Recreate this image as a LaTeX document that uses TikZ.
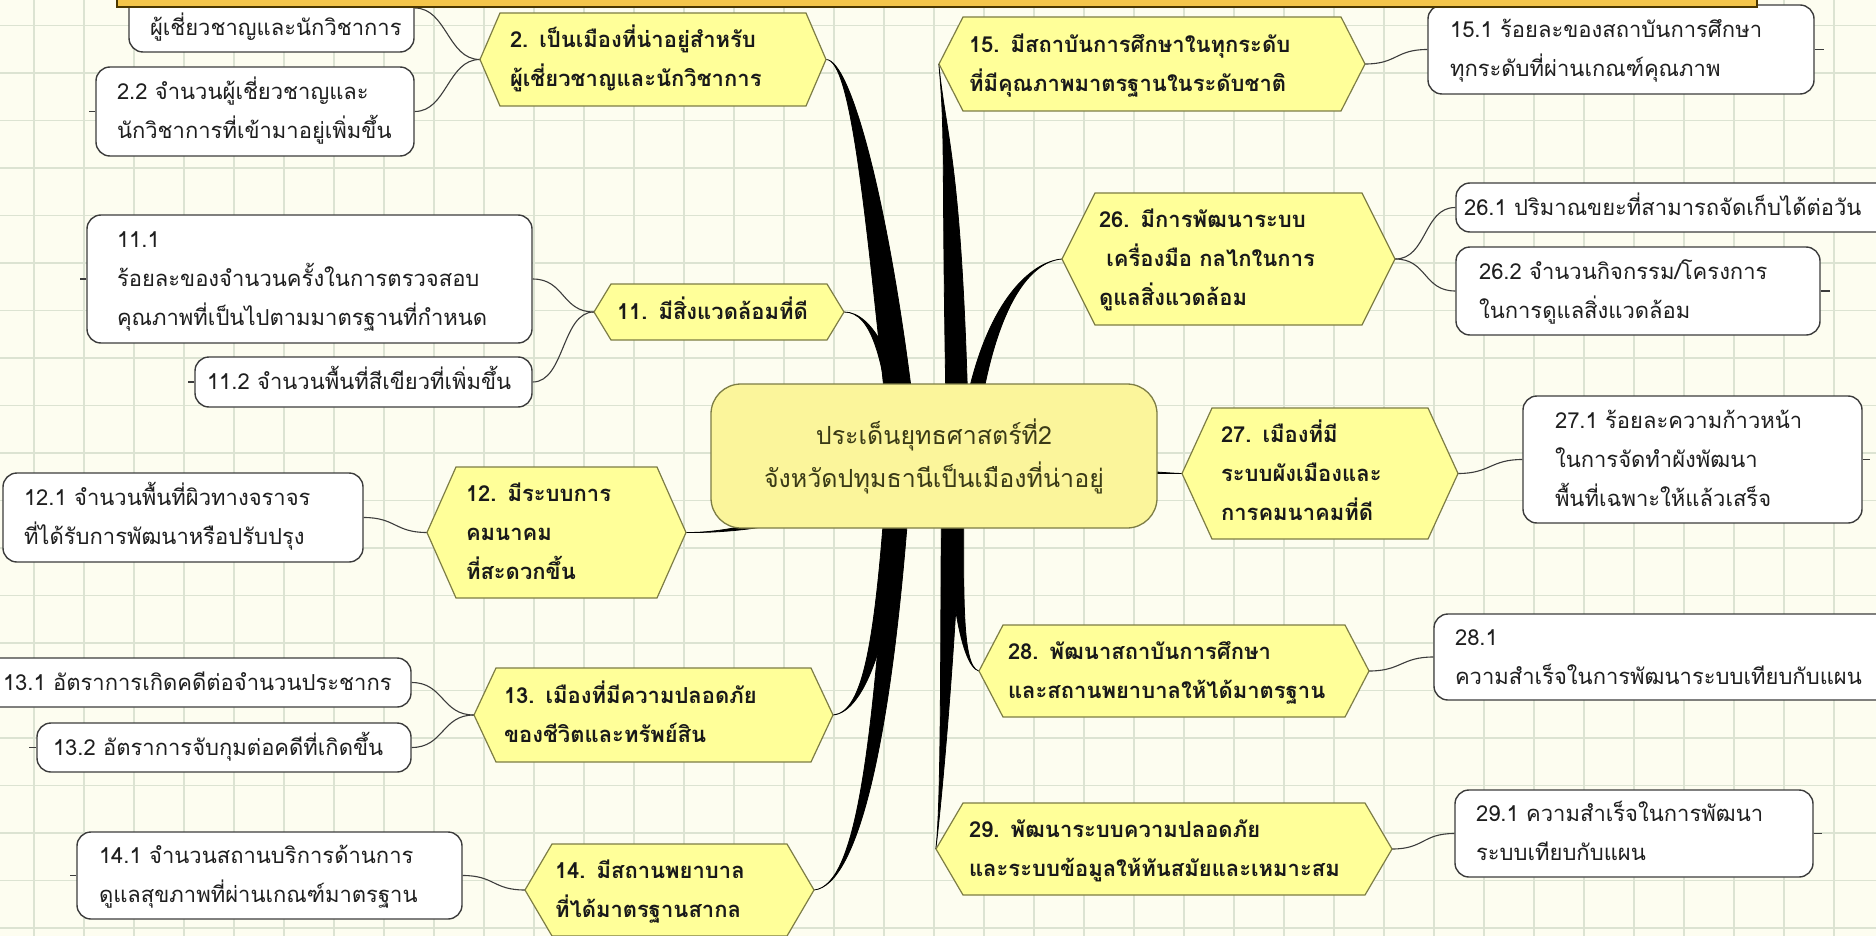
\documentclass[tikz,border=0pt]{standalone}
\usepackage{fontspec}
\usetikzlibrary{calc}
\newfontfamily\thaifont[Script=Thai]{Loma}

\definecolor{paper}{HTML}{FDFDF0}
\definecolor{gridline}{HTML}{DCE3D2}
\definecolor{hexfill}{HTML}{FFFF99}
\definecolor{hexline}{HTML}{7D7D45}
\definecolor{leafline}{HTML}{3C3C3C}
\definecolor{corefill}{HTML}{FBF59B}
\definecolor{coretext}{HTML}{3A3A16}
\definecolor{bannerfill}{HTML}{F4C54A}
\definecolor{bannerline}{HTML}{4A3600}

\newcommand\leaffont{\thaifont\fontsize{22}{39}\selectfont}
\newcommand\hexfont{\thaifont\bfseries\fontsize{22}{39}\selectfont}
\newcommand\corefont{\thaifont\fontsize{25}{43}\selectfont}

% one text line that never wraps
\newcommand\LL[1]{\makebox[0pt][l]{\strut#1}}

\pgfdeclarelayer{gridlayer}
\pgfdeclarelayer{links}
\pgfsetlayers{gridlayer,links,main}

% leaf box: name, left, top, right, bottom, text left, lines
\newcommand\leafnode[7]{%
  \pgfmathsetmacro\LFw{#4-#2}\pgfmathsetmacro\LFh{#5-#3}%
  \pgfmathsetmacro\LFx{(#2+#4)/2}\pgfmathsetmacro\LFy{(#3+#5)/2}%
  \pgfmathsetmacro\LFt{#4+#2-2*#6}%
  \node[leafbox, minimum width=\LFw pt, minimum height=\LFh pt, text width=\LFt pt] (#1) at (\LFx,\LFy) {#7};}

% hexagon: name, left tip, right tip, top, bottom, tip depth, text left, lines
\newcommand\hexnode[8]{%
  \pgfmathsetmacro\HXw{#3-#2}\pgfmathsetmacro\HXh{#5-#4}%
  \pgfmathsetmacro\HXx{(#2+#3)/2}\pgfmathsetmacro\HXy{(#4+#5)/2}%
  \pgfmathsetmacro\HXt{#3+#2-2*#7}%
  \filldraw[hexshape] (#2,\HXy) -- ({#2+#6},#4) -- ({#3-#6},#4) -- (#3,\HXy)
     -- ({#3-#6},#5) -- ({#2+#6},#5) -- cycle;
  \node[hextext, minimum width=\HXw pt, minimum height=\HXh pt, text width=\HXt pt] (#1) at (\HXx,\HXy) {#8};}

% tapered branch: thin end, control 1, control 2, base, half width (dx,dy)
\newcommand\trunk[6]{%
  \filldraw[trunkstyle] #1 .. controls #2 and ($#3+(#5,#6)$) .. ($#4+(#5,#6)$)
    -- ($#4-(#5,#6)$) .. controls ($#3-(#5,#6)$) and #2 .. #1 -- cycle;}

\begin{document}
\begin{tikzpicture}[x=1pt,y=-1pt,
  leafbox/.style={draw=leafline, fill=white, line width=1.4pt, rounded corners=14pt,
    inner sep=0pt, align=left, font=\leaffont, text=black!88},
  hexshape/.style={draw=hexline, fill=hexfill, line width=1.2pt, line join=miter},
  hextext/.style={inner sep=0pt, align=left, font=\hexfont, text=black!90},
  corebox/.style={draw=hexline, fill=corefill, line width=1.3pt, rounded corners=30pt,
    align=center, font=\corefont, text=coretext},
  link/.style={draw=leafline, line width=1.1pt},
  tick/.style={draw=leafline, line width=1.2pt},
  trunkstyle/.style={fill=black, draw=black, line width=0.8pt},
  gridstyle/.style={draw=gridline, line width=1.6pt},
  banner/.style={fill=bannerfill, draw=bannerline, line width=2pt}]

\useasboundingbox (0,0) rectangle (1876,936);

% paper and grid
\begin{pgfonlayer}{gridlayer}
  \fill[paper] (0,0) rectangle (1876,936);
  \foreach \gx in {34,84,...,1834} \draw[gridstyle] (\gx,0) -- (\gx,936);
  \foreach \gy in {25.5,73,...,930} \draw[gridstyle] (0,\gy) -- (1876,\gy);
\end{pgfonlayer}

% central topic
\node[corebox, minimum width=446pt, minimum height=144pt] (core) at (934,456)
  {ประเด็นยุทธศาสตร์ที่2\\จังหวัดปทุมธานีเป็นเมืองที่น่าอยู่};

% main topics
\hexnode{h2}{480}{826}{13}{106}{20}{510}{\LL{2. เป็นเมืองที่น่าอยู่สำหรับ}\\\LL{ผู้เชี่ยวชาญและนักวิชาการ}}
\hexnode{h11}{594}{844}{284}{340}{17}{617}{\LL{11. มีสิ่งแวดล้อมที่ดี}}
\hexnode{h12}{427}{686}{467}{598}{29}{466}{\LL{12. มีระบบการ}\\\LL{คมนาคม}\\\LL{ที่สะดวกขึ้น}}
\hexnode{h13}{474}{833}{668}{762}{22}{504}{\LL{13. เมืองที่มีความปลอดภัย}\\\LL{ของชีวิตและทรัพย์สิน}}
\hexnode{h14}{525}{814}{844}{936}{27}{555}{\LL{14. มีสถานพยาบาล}\\\LL{ที่ได้มาตรฐานสากล}}
\hexnode{h15}{939}{1365}{17}{111}{24}{969}{\LL{15. มีสถาบันการศึกษาในทุกระดับ}\\\LL{ที่มีคุณภาพมาตรฐานในระดับชาติ}}
\hexnode{h26}{1062}{1395}{193}{325}{33}{1099}{\LL{26. มีการพัฒนาระบบ}\\\LL{\ เครื่องมือ กลไกในการ}\\\LL{ดูแลสิ่งแวดล้อม}}
\hexnode{h27}{1182}{1458}{408}{539}{30}{1221}{\LL{27. เมืองที่มี}\\\LL{ระบบผังเมืองและ}\\\LL{การคมนาคมที่ดี}}
\hexnode{h28}{979}{1369}{625}{717}{24}{1008}{\LL{28. พัฒนาสถาบันการศึกษา}\\\LL{และสถานพยาบาลให้ได้มาตรฐาน}}
\hexnode{h29}{936}{1392}{803}{895}{27}{969}{\LL{29. พัฒนาระบบความปลอดภัย}\\\LL{และระบบข้อมูลให้ทันสมัยและเหมาะสม}}

% indicators
\leafnode{l21}{129}{-36}{414}{52}{150}{\LL{}\\\LL{ผู้เชี่ยวชาญและนักวิชาการ}}
\leafnode{l22}{96}{67}{414}{156}{117}{\LL{2.2 จำนวนผู้เชี่ยวชาญและ}\\\LL{นักวิชาการที่เข้ามาอยู่เพิ่มขึ้น}}
\leafnode{l111}{87}{215}{532}{343}{117}{\LL{11.1}\\\LL{ร้อยละของจำนวนครั้งในการตรวจสอบ}\\\LL{คุณภาพที่เป็นไปตามมาตรฐานที่กำหนด}}
\leafnode{l112}{195}{357}{532}{407}{207}{\LL{11.2 จำนวนพื้นที่สีเขียวที่เพิ่มขึ้น}}
\leafnode{l121}{3}{473}{363}{562}{24}{\LL{12.1 จำนวนพื้นที่ผิวทางจราจร}\\\LL{ที่ได้รับการพัฒนาหรือปรับปรุง}}
\leafnode{l131}{-15}{658}{411}{707}{3}{\LL{13.1 อัตราการเกิดคดีต่อจำนวนประชากร}}
\leafnode{l132}{37}{723}{411}{772}{53}{\LL{13.2 อัตราการจับกุมต่อคดีที่เกิดขึ้น}}
\leafnode{l141}{77}{832}{462}{919}{99}{\LL{14.1 จำนวนสถานบริการด้านการ}\\\LL{ดูแลสุขภาพที่ผ่านเกณฑ์มาตรฐาน}}
\leafnode{l151}{1428}{5}{1814}{94}{1450}{\LL{15.1 ร้อยละของสถาบันการศึกษา}\\\LL{ทุกระดับที่ผ่านเกณฑ์คุณภาพ}}
\leafnode{l261}{1456}{183}{1890}{232}{1464}{\LL{26.1 ปริมาณขยะที่สามารถจัดเก็บได้ต่อวัน}}
\leafnode{l262}{1456}{247}{1820}{335}{1479}{\LL{26.2 จำนวนกิจกรรม/โครงการ}\\\LL{ในการดูแลสิ่งแวดล้อม}}
\leafnode{l271}{1523}{396}{1862}{523}{1555}{\LL{27.1 ร้อยละความก้าวหน้า}\\\LL{ในการจัดทำผังพัฒนา}\\\LL{พื้นที่เฉพาะให้แล้วเสร็จ}}
\leafnode{l281}{1434}{614}{1890}{700}{1455}{\LL{28.1}\\\LL{ความสำเร็จในการพัฒนาระบบเทียบกับแผน}}
\leafnode{l291}{1455}{790}{1813}{877}{1476}{\LL{29.1 ความสำเร็จในการพัฒนา}\\\LL{ระบบเทียบกับแผน}}

% collapsed-branch stubs
\draw[tick] (l22.west) -- ++(-6,0);
\draw[tick] (l111.west) -- ++(-6,0);
\draw[tick] (l112.west) -- ++(-6,0);
\draw[tick] (l132.west) -- ++(-7,0);
\draw[tick] (l141.west) -- ++(-6,0);
\draw[tick] (l151.east) -- ++(9,0);
\draw[tick] (l262.east) -- ++(9,0);
\draw[tick] (l271.east) -- ++(7,0);
\draw[tick] (l291.east) -- ++(8,0);

\begin{pgfonlayer}{links}
  % bases of the branches, under the central topic
  \coordinate (k2)  at ($(core.center)+(-29,0)$);
  \coordinate (k11) at ($(core.center)+(-32,0)$);
  \coordinate (k12) at ($(core.center)+(-64,34)$);
  \coordinate (k13) at ($(core.center)+(-36,0)$);
  \coordinate (k14) at ($(core.center)+(-32,0)$);
  \coordinate (k15) at ($(core.center)+(24,0)$);
  \coordinate (k26) at ($(core.center)+(32,0)$);
  \coordinate (k27) at ($(core.center)+(146,14)$);
  \coordinate (k28) at ($(core.center)+(21,0)$);
  \coordinate (k29) at ($(core.center)+(18,0)$);

  \trunk{(h2.east)}{(852,60)}{(880,220)}{(k2)}{14}{0}
  \trunk{(h11.east)}{(872,312)}{(893,360)}{(k11)}{8}{0}
  \trunk{(h12.east)}{(735,533)}{(800,520)}{(k12)}{0}{6}
  \trunk{(h13.east)}{(864,712)}{(886,640)}{(k13)}{10}{0}
  \trunk{(h14.east)}{(858,885)}{(884,740)}{(k14)}{10}{0}
  \trunk{(h15.west)}{(946,140)}{(952,160)}{(k15)}{11}{0}
  \trunk{(h26.west)}{(1028,262)}{(982,310)}{(k26)}{8}{0}
  \trunk{(h27.west)}{(1165,473)}{(1130,472)}{(k27)}{0}{2.5}
  \trunk{(h28.west)}{(960,666)}{(955,580)}{(k28)}{9}{0}
  \trunk{(h29.west)}{(942,800)}{(950,600)}{(k29)}{10}{0}

  % thin links from topics to indicators
  \draw[link] (l21.east)  .. controls +(32,0) and +(-32,0) .. (h2.west);
  \draw[link] (l22.east)  .. controls +(32,0) and +(-32,0) .. (h2.west);
  \draw[link] (l111.east) .. controls +(32,0) and +(-32,0) .. (h11.west);
  \draw[link] (l112.east) .. controls +(32,0) and +(-32,0) .. (h11.west);
  \draw[link] (l121.east) .. controls +(32,0) and +(-32,0) .. (h12.west);
  \draw[link] (l131.east) .. controls +(32,0) and +(-32,0) .. (h13.west);
  \draw[link] (l132.east) .. controls +(32,0) and +(-32,0) .. (h13.west);
  \draw[link] (l141.east) .. controls +(32,0) and +(-32,0) .. (h14.west);
  \draw[link] (h15.east)  .. controls +(32,0) and +(-32,0) .. (l151.west);
  \draw[link] (h26.east)  .. controls +(32,0) and +(-32,0) .. (l261.west);
  \draw[link] (h26.east)  .. controls +(32,0) and +(-32,0) .. (l262.west);
  \draw[link] (h27.east)  .. controls +(32,0) and +(-32,0) .. (l271.west);
  \draw[link] (h28.east)  .. controls +(32,0) and +(-32,0) .. (l281.west);
  \draw[link] (h29.east)  .. controls +(32,0) and +(-32,0) .. (l291.west);
\end{pgfonlayer}

% title strip along the top edge
\draw[banner] (117,-12) rectangle (1757,7);

\end{tikzpicture}
\end{document}
